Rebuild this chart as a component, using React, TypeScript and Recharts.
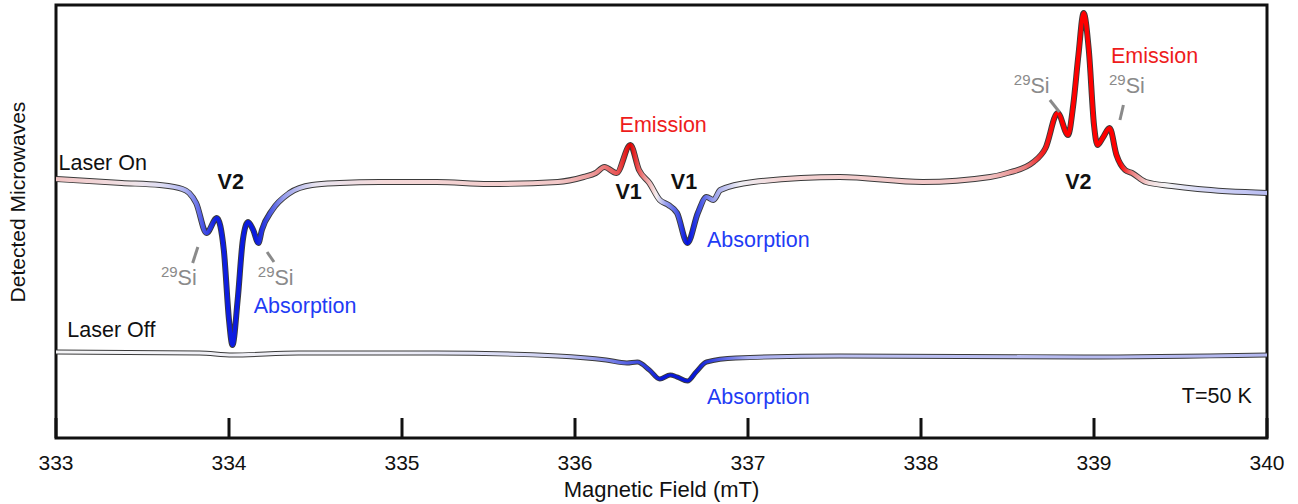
import { ComposedChart, Line, XAxis, YAxis, ReferenceArea, ReferenceDot, ReferenceLine } from 'recharts';

const FONT = '"Liberation Sans", Arial, sans-serif';
const BLUE = '#1f3cf5';
const RED = '#ee1c1c';
const GREY = '#8a8a8a';

// magnetic field (mT) and detected signal (arb. units)
const fieldOn = [333.0, 333.38, 333.6, 333.73, 333.77, 333.81, 333.87, 333.93, 333.97, 334.0, 334.02, 334.05, 334.08, 334.11, 334.14, 334.17, 334.19, 334.25, 334.35, 334.48, 334.64, 334.87, 335.2, 335.5, 335.9, 336.05, 336.12, 336.17, 336.24, 336.32, 336.37, 336.43, 336.49, 336.54, 336.59, 336.65, 336.71, 336.76, 336.8, 336.84, 337.03, 337.53, 338.01, 338.4, 338.5, 338.65, 338.72, 338.79, 338.85, 338.88, 338.91, 338.94, 338.97, 339.0, 339.02, 339.05, 339.09, 339.13, 339.18, 339.22, 339.3, 339.45, 339.6, 340.0];
const signalOn = [259, 255, 253, 249, 245, 235, 205, 220, 188, 118, 93, 138, 198, 216, 208, 195, 208, 228, 245, 253, 255, 256, 256, 254, 256, 261, 265, 271, 265, 293, 268, 255, 238, 233, 225, 195, 225, 241, 238, 248, 256, 261, 256, 261, 265, 276, 290, 325, 303, 333, 383, 425, 388, 313, 293, 300, 310, 283, 268, 265, 256, 252, 249, 245];

const fieldOff = [333.0, 333.83, 334.02, 334.4, 335.2, 335.9, 336.18, 336.3, 336.36, 336.43, 336.49, 336.55, 336.59, 336.65, 336.7, 336.76, 336.93, 337.53, 338.94, 340.0];
const signalOff = [86, 85, 83, 85, 85, 82, 78, 75, 76, 68, 59, 63, 61, 57, 66, 76, 80, 82, 81, 83];

const xTicks = [333, 334, 335, 336, 337, 338, 339, 340];

// colour along the trace: red = emission, blue = absorption
const gradOn: [number, string][] = [
  [333.0, '#f2c4c4'], [333.45, '#f0e4e8'], [333.62, '#dcdcf4'], [333.75, '#a8aef0'], [333.85, '#4b56e6'],
  [333.92, '#1020e0'], [334.15, '#0818e0'], [334.22, '#3a48e0'], [334.32, '#9aa0ec'], [334.5, '#e8e4f0'],
  [334.9, '#f4d8d8'], [335.9, '#f2c8c8'], [336.1, '#ec9a9a'], [336.25, '#e85050'], [336.32, '#e00000'],
  [336.4, '#ee9090'], [336.47, '#f5eeee'], [336.52, '#a0a6ee'], [336.6, '#4050e4'], [336.65, '#0010e0'],
  [336.72, '#4050e4'], [336.8, '#9aa0ec'], [336.95, '#eeeef4'], [337.2, '#f4d4d4'], [338.4, '#f0c0c0'],
  [338.6, '#e88080'], [338.7, '#f02020'], [338.78, '#ff0000'], [339.15, '#ff0000'], [339.22, '#ec8080'],
  [339.32, '#f4dcdc'], [339.42, '#f4f4f6'], [339.6, '#d8daf6'], [340.0, '#b8bcf2'],
];
const gradOff: [number, string][] = [
  [333.0, '#f4f4f6'], [335.0, '#ececf6'], [335.9, '#cfd2f4'], [336.2, '#7a82e6'], [336.4, '#3040e0'],
  [336.5, '#0818d8'], [336.7, '#0818d8'], [336.85, '#5560e4'], [337.0, '#a8adf0'], [337.4, '#bcc0f2'], [340.0, '#b4b8f0'],
];

const notes = [
  { x: 333.27, y: 268, text: 'Laser On', color: '#111' },
  { x: 333.32, y: 101, text: 'Laser Off', color: '#111' },
  { x: 334.01, y: 249, text: 'V2', color: '#111', bold: true },
  { x: 333.71, y: 153, text: 'Si', sup: '29', color: GREY },
  { x: 334.27, y: 153, text: 'Si', sup: '29', color: GREY },
  { x: 334.44, y: 125, text: 'Absorption', color: BLUE },
  { x: 336.51, y: 306, text: 'Emission', color: RED },
  { x: 336.31, y: 239, text: 'V1', color: '#111', bold: true },
  { x: 336.63, y: 249, text: 'V1', color: '#111', bold: true },
  { x: 337.06, y: 191, text: 'Absorption', color: BLUE },
  { x: 337.06, y: 34, text: 'Absorption', color: BLUE },
  { x: 338.64, y: 345, text: 'Si', sup: '29', color: GREY },
  { x: 339.19, y: 345, text: 'Si', sup: '29', color: GREY },
  { x: 339.35, y: 375, text: 'Emission', color: RED },
  { x: 338.91, y: 249, text: 'V2', color: '#111', bold: true },
  { x: 339.71, y: 35, text: 'T=50 K', color: '#111' },
];

const pointers = [
  [{ x: 333.82, y: 191 }, { x: 333.79, y: 175 }],
  [{ x: 334.22, y: 186 }, { x: 334.26, y: 176 }],
  [{ x: 338.745, y: 338 }, { x: 338.8, y: 326 }],
  [{ x: 339.17, y: 333 }, { x: 339.15, y: 318 }],
];

const onData = fieldOn.map((f, i) => ({ field: f, signal: signalOn[i] }));
const offData = fieldOff.map((f, i) => ({ field: f, signal: signalOff[i] }));

const stopOffset = (f: number) => `${((f - 333) / 7) * 100}%`;

function FieldTick(props: any) {
  const { x, y, payload } = props;
  return (
    <g>
      <line x1={x} x2={x} y1={y - 20} y2={y} stroke="#111" strokeWidth={3} />
      <text x={x} y={y + 32} textAnchor="middle" fontSize={21} fill="#111" fontFamily={FONT}>
        {payload.value}
      </text>
    </g>
  );
}

function XTitle(props: any) {
  const vb = props.viewBox ?? { x: 56, y: 438, width: 1211, height: 66 };
  return (
    <text x={vb.x + vb.width / 2} y={vb.y + 59} textAnchor="middle" fontSize={22} fill="#111" fontFamily={FONT}>
      Magnetic Field (mT)
    </text>
  );
}

function YTitle(props: any) {
  const vb = props.viewBox ?? { x: 0, y: 5, width: 56, height: 433 };
  const x = vb.x + 25;
  const y = vb.y + 197;
  return (
    <text x={x} y={y} transform={`rotate(-90 ${x} ${y})`} textAnchor="middle" fontSize={21} fill="#111" fontFamily={FONT}>
      Detected Microwaves
    </text>
  );
}

function Note(note: any) {
  return (props: any) => (
    <text
      x={props.cx}
      y={props.cy}
      textAnchor="middle"
      fontSize={21.5}
      fontWeight={note.bold ? 'bold' : 'normal'}
      fill={note.color}
      fontFamily={FONT}
    >
      {note.sup && (
        <tspan fontSize={15} dy={-8}>
          {note.sup}
        </tspan>
      )}
      <tspan dy={note.sup ? 8 : 0}>{note.text}</tspan>
    </text>
  );
}

export default function App() {
  return (
    <div style={{ position: 'absolute', left: 0, top: 0, background: '#fff' }}>
      <ComposedChart width={1298} height={504} margin={{ top: 5, right: 31, bottom: 0, left: 0 }}>
        <defs>
          <linearGradient id="gradOn" x1="0" x2="1" y1="0" y2="0">
            {gradOn.map(([f, c]) => (
              <stop key={f} offset={stopOffset(f)} stopColor={c} />
            ))}
          </linearGradient>
          <linearGradient id="gradOff" x1="0" x2="1" y1="0" y2="0">
            {gradOff.map(([f, c]) => (
              <stop key={f} offset={stopOffset(f)} stopColor={c} />
            ))}
          </linearGradient>
        </defs>
        <XAxis
          dataKey="field"
          type="number"
          domain={[333, 340]}
          ticks={xTicks}
          allowDataOverflow
          height={66}
          axisLine={false}
          tickLine={false}
          tickSize={0}
          tickMargin={0}
          tick={<FieldTick />}
          label={<XTitle />}
        />
        <YAxis type="number" domain={[0, 433]} width={56} tick={false} axisLine={false} tickLine={false} label={<YTitle />} />
        <Line data={onData} dataKey="signal" type="monotone" stroke="#3a3a3a" strokeWidth={6} dot={false} isAnimationActive={false} />
        <Line data={offData} dataKey="signal" type="monotone" stroke="#3a3a3a" strokeWidth={5} dot={false} isAnimationActive={false} />
        <Line data={onData} dataKey="signal" type="monotone" stroke="url(#gradOn)" strokeWidth={4.2} dot={false} isAnimationActive={false} />
        <Line data={offData} dataKey="signal" type="monotone" stroke="url(#gradOff)" strokeWidth={3.2} dot={false} isAnimationActive={false} />
        {pointers.map((seg, i) => (
          <ReferenceLine key={`p${i}`} segment={seg} stroke={GREY} strokeWidth={3} />
        ))}
        {notes.map((n, i) => (
          <ReferenceDot key={`n${i}`} x={n.x} y={n.y} r={0} shape={Note(n)} />
        ))}
        <ReferenceArea x1={333} x2={340} y1={0} y2={433} fill="none" stroke="#111" strokeWidth={3} />
      </ComposedChart>
    </div>
  );
}
